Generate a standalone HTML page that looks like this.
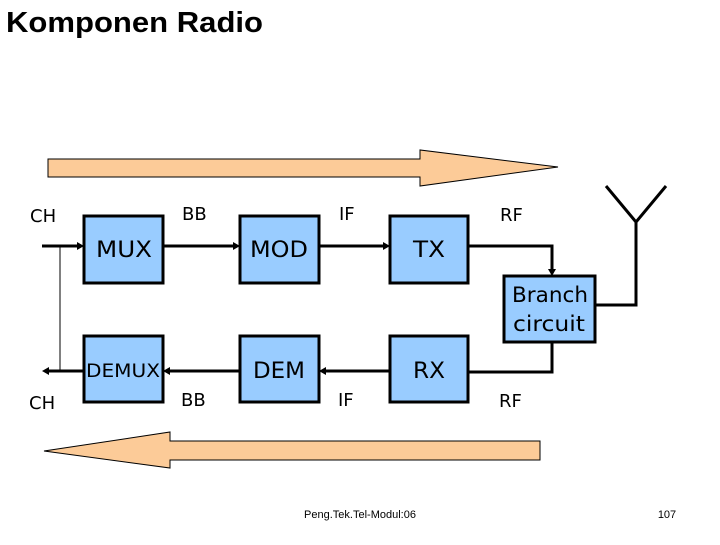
<!DOCTYPE html>
<html><head><meta charset="utf-8"><style>
body{margin:0;width:720px;height:540px;background:#fff;overflow:hidden;font-family:"Liberation Sans",sans-serif}
</style></head><body>
<svg width="720" height="540" xmlns="http://www.w3.org/2000/svg">
<text x="6" y="32" font-family="Liberation Sans" font-weight="bold" font-size="29" fill="#000" textLength="257" lengthAdjust="spacingAndGlyphs">Komponen Radio</text>
<polygon points="48,159 420,159 420,150 558,167 420,186 420,177 48,177" fill="#fccb98" stroke="#000" stroke-width="1"/>
<polygon points="540,441 170,441 170,432 44,451 170,468 170,460 540,460" fill="#fccb98" stroke="#000" stroke-width="1"/>
<g fill="#99ccff" stroke="#000" stroke-width="3">
<rect x="84" y="216" width="79" height="67"/>
<rect x="240" y="216" width="79" height="67"/>
<rect x="390" y="216" width="78" height="67"/>
<rect x="84" y="336" width="79" height="66"/>
<rect x="240" y="336" width="79" height="66"/>
<rect x="390" y="336" width="78" height="66"/>
<rect x="504" y="276" width="91" height="66"/>
</g>
<g stroke="#000" stroke-width="3" fill="none">
<line x1="42" y1="246" x2="80" y2="246"/>
<line x1="163" y1="246" x2="236" y2="246"/>
<line x1="319" y1="246" x2="386" y2="246"/>
<polyline points="468,246 552,246 552,272"/>
<polyline points="552,342 552,372 468,372"/>
<line x1="390" y1="371" x2="323" y2="371"/>
<line x1="240" y1="371" x2="167" y2="371"/>
<line x1="84" y1="371" x2="46" y2="371"/>
<polyline points="595,305 636,305 636,222"/>
<polyline points="606,186 636,222 666,186"/>
</g>
<line x1="60" y1="246" x2="60" y2="371" stroke="#000" stroke-width="1"/>
<g fill="#000">
<polygon points="84,246 77,242 77,250"/><polygon points="240,246 233,242 233,250"/>
<polygon points="390,246 383,242 383,250"/><polygon points="552,276 548,269 556,269"/>
<polygon points="319,371 326,367 326,375"/><polygon points="163,371 170,367 170,375"/>
<polygon points="42,371 49,367 49,375"/>
</g>
<g font-family="DejaVu Sans" font-size="22" fill="#000" text-anchor="middle">
<text x="124" y="257" textLength="56" lengthAdjust="spacingAndGlyphs">MUX</text>
<text x="279" y="257" textLength="58" lengthAdjust="spacingAndGlyphs">MOD</text>
<text x="429" y="257" textLength="32" lengthAdjust="spacingAndGlyphs">TX</text>
<text x="123" y="377" font-size="19" textLength="74" lengthAdjust="spacingAndGlyphs">DEMUX</text>
<text x="279" y="378" textLength="52" lengthAdjust="spacingAndGlyphs">DEM</text>
<text x="429" y="378" textLength="32" lengthAdjust="spacingAndGlyphs">RX</text>
<text x="550" y="302" font-size="21" textLength="76" lengthAdjust="spacingAndGlyphs">Branch</text>
<text x="549" y="331" font-size="21" textLength="72" lengthAdjust="spacingAndGlyphs">circuit</text>
</g>
<g font-family="DejaVu Sans" font-size="18" fill="#000">
<text x="30" y="222">CH</text><text x="182" y="220">BB</text><text x="339" y="220">IF</text><text x="500" y="221">RF</text>
<text x="29" y="409">CH</text><text x="181" y="406">BB</text><text x="338" y="406">IF</text><text x="499" y="407">RF</text>
</g>
<text x="360" y="518" font-family="Liberation Sans" font-size="11" text-anchor="middle">Peng.Tek.Tel-Modul:06</text>
<text x="667" y="518" font-family="Liberation Sans" font-size="11" text-anchor="middle">107</text>
</svg>
</body></html>
